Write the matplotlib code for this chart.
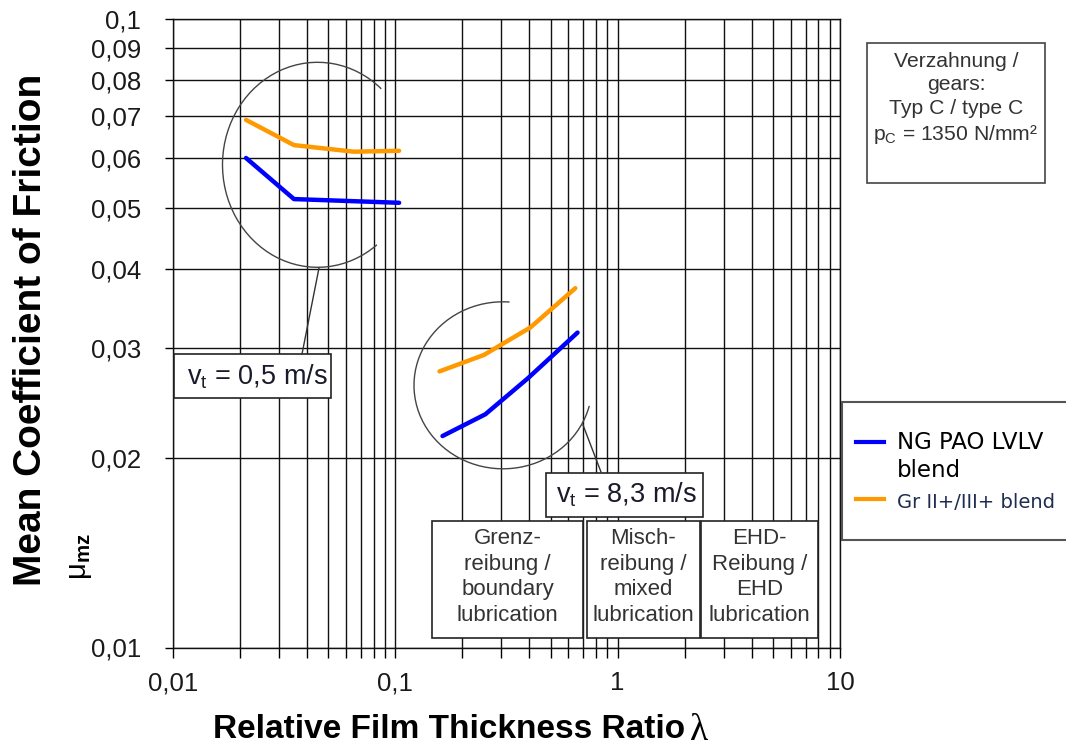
import numpy as np
import matplotlib
matplotlib.use("Agg")
import matplotlib.pyplot as plt
from matplotlib.patches import Rectangle, Arc
from matplotlib.lines import Line2D
from matplotlib.transforms import Affine2D
from matplotlib.ticker import (FixedLocator, FixedFormatter, NullFormatter,
                               NullLocator, LogLocator)

plt.rcParams["font.family"] = ["Liberation Sans", "DejaVu Sans"]
plt.rcParams["mathtext.fontset"] = "custom"
plt.rcParams["mathtext.rm"] = "Liberation Sans"
plt.rcParams["mathtext.it"] = "Liberation Sans:italic"
plt.rcParams["mathtext.bf"] = "Liberation Sans:bold"

W, H = 1066, 751

# data
lambda_low = [0.0213, 0.035, 0.065, 0.104]
mu_pao_low = [0.0601, 0.0517, 0.0513, 0.0510]
mu_gr_low = [0.0691, 0.0630, 0.0615, 0.0617]

lambda_high_pao = [0.163, 0.254, 0.394, 0.66]
mu_pao_high = [0.0217, 0.0235, 0.0268, 0.0317]
lambda_high_gr = [0.158, 0.250, 0.405, 0.645]
mu_gr_high = [0.0275, 0.0292, 0.0323, 0.0373]

x_ticks = [0.01, 0.1, 1, 10]
x_tick_labels = ["0,01", "0,1", "1", "10"]
y_ticks = [0.01, 0.02, 0.03, 0.04, 0.05, 0.06, 0.07, 0.08, 0.09, 0.1]
y_tick_labels = ["0,01", "0,02", "0,03", "0,04", "0,05", "0,06", "0,07",
                 "0,08", "0,09", "0,1"]

series_names = ["NG PAO LVLV\nblend", "Gr II+/III+ blend"]
regimes = ["Grenz-\nreibung /\nboundary\nlubrication",
           "Misch-\nreibung /\nmixed\nlubrication",
           "EHD-\nReibung /\nEHD\nlubrication"]
info_text = "Verzahnung /\ngears:\nTyp C / type C\np$_\\mathrm{C}$ = 1350 N/mm²"

BLUE = "#0000ff"
ORANGE = "#ff9900"
TXT = "#333333"

fig = plt.figure(figsize=(W / 100, H / 100), dpi=100)
fig.patch.set_facecolor("white")
# pixel coordinates, origin top left
pix = Affine2D().scale(1, -1).translate(0, H)

ax = fig.add_axes([173 / W, 1 - 647.5 / H, (840 - 173) / W, (647.5 - 19) / H])
ax.set_xscale("log")
ax.set_yscale("log")
ax.set_xlim(0.01, 10)
ax.set_ylim(0.01, 0.1)

ax.plot(lambda_low, mu_pao_low, color=BLUE, lw=3.2, solid_capstyle="round")
ax.plot(lambda_high_pao, mu_pao_high, color=BLUE, lw=3.2, solid_capstyle="round")
ax.plot(lambda_low, mu_gr_low, color=ORANGE, lw=3.2, solid_capstyle="round")
ax.plot(lambda_high_gr, mu_gr_high, color=ORANGE, lw=3.2, solid_capstyle="round")

ax.yaxis.set_major_locator(FixedLocator(y_ticks))
ax.yaxis.set_major_formatter(FixedFormatter(y_tick_labels))
ax.yaxis.set_minor_locator(NullLocator())
ax.xaxis.set_major_locator(FixedLocator(x_ticks))
ax.xaxis.set_major_formatter(FixedFormatter(x_tick_labels))
ax.xaxis.set_minor_locator(LogLocator(base=10, subs=np.arange(2, 10)))
ax.xaxis.set_minor_formatter(NullFormatter())

ax.tick_params(axis="y", which="both", direction="out", length=5.8, width=1,
               pad=17, labelsize=18.5, labelcolor="#1a1a1a")
ax.tick_params(axis="x", which="both", direction="out", length=7.2, width=1,
               pad=10, labelsize=18.5, labelcolor="#1a1a1a")
ax.grid(True, which="both", color="#111111", lw=1.0)
ax.set_axisbelow(True)
for s in ax.spines.values():
    s.set_color("#111111")
    s.set_linewidth(1.0)

# axis titles
fig.text(31, 330, "Mean Coefficient of Friction", rotation=90, ha="center",
         va="center", fontsize=28, fontweight="bold", color="black",
         transform=pix)
fig.text(80, 557, r"$\mathrm{\mu}_{\mathbf{mz}}$", rotation=90, ha="center",
         va="center", fontsize=21, color="black", transform=pix)
xlab = fig.text(213, 729, "Relative Film Thickness Ratio", ha="left",
                va="center", fontsize=24, fontweight="bold", color="black",
                transform=pix)
fig.canvas.draw()
x_end = xlab.get_window_extent().x1
fig.text(x_end + 5, 731, "λ", ha="left", va="center", fontsize=27,
         family="Liberation Serif", color="black", transform=pix)


def box(x0, y0, x1, y1, ec="#222222", lw=1.2):
    r = Rectangle((x0, y0), x1 - x0, y1 - y0, facecolor="white", edgecolor=ec,
                  lw=lw, transform=pix, zorder=1)
    fig.add_artist(r)


def leader(x0, y0, x1, y1):
    fig.add_artist(Line2D([x0, x1], [y0, y1], color="#333333", lw=1.0,
                          transform=pix, zorder=2))


# circles around the two speed groups
fig.add_artist(Arc((317.5, 164.8), 190, 205, theta1=53.4, theta2=310,
                   color="#444444", lw=1.0, transform=pix, zorder=2))
fig.add_artist(Arc((503, 385.3), 178, 167, theta1=13.4, theta2=274.5,
                   color="#444444", lw=1.0, transform=pix, zorder=2))
leader(319, 268, 302, 354)
leader(583, 425, 601, 472)

# speed labels
box(174, 354, 331, 398)
fig.text(257, 377, r"v$_\mathrm{t}$ = 0,5 m/s", ha="center", va="center",
         fontsize=19.5, color="#1a1a2a", transform=pix, zorder=3)
box(546, 473, 703, 517)
fig.text(626, 495, r"v$_\mathrm{t}$ = 8,3 m/s", ha="center", va="center",
         fontsize=19.5, color="#1a1a2a", transform=pix, zorder=3)

# lubrication regimes
regime_edges = [(432, 583), (587, 700), (700.5, 818)]
for (x0, x1), label in zip(regime_edges, regimes):
    box(x0, 521, x1, 638)
    fig.text((x0 + x1) / 2, 577, label, ha="center", va="center",
             fontsize=16, color=TXT, linespacing=1.3, transform=pix, zorder=3)

# gear info box
box(867, 43, 1045, 183, ec="#444444")
fig.text(956, 52, info_text, ha="center", va="top", fontsize=15.2, color=TXT,
         linespacing=1.3, transform=pix, zorder=3)

# legend
box(842, 402, 1085, 540, ec="#555555", lw=1.5)
fig.add_artist(Line2D([856, 884], [442, 442], color=BLUE, lw=3, transform=pix,
                      zorder=3))
fig.add_artist(Line2D([856, 884], [499, 499], color=ORANGE, lw=3, transform=pix,
                      zorder=3))
fig.text(897, 431, series_names[0], ha="left", va="top", fontsize=16.5,
         family="DejaVu Sans", color="black", linespacing=1.3, transform=pix,
         zorder=3)
fig.text(897, 503, series_names[1], ha="left", va="center", fontsize=14,
         family="DejaVu Sans", color="#1f2d50", transform=pix, zorder=3)

fig.savefig("out.png", dpi=100, facecolor="white")
